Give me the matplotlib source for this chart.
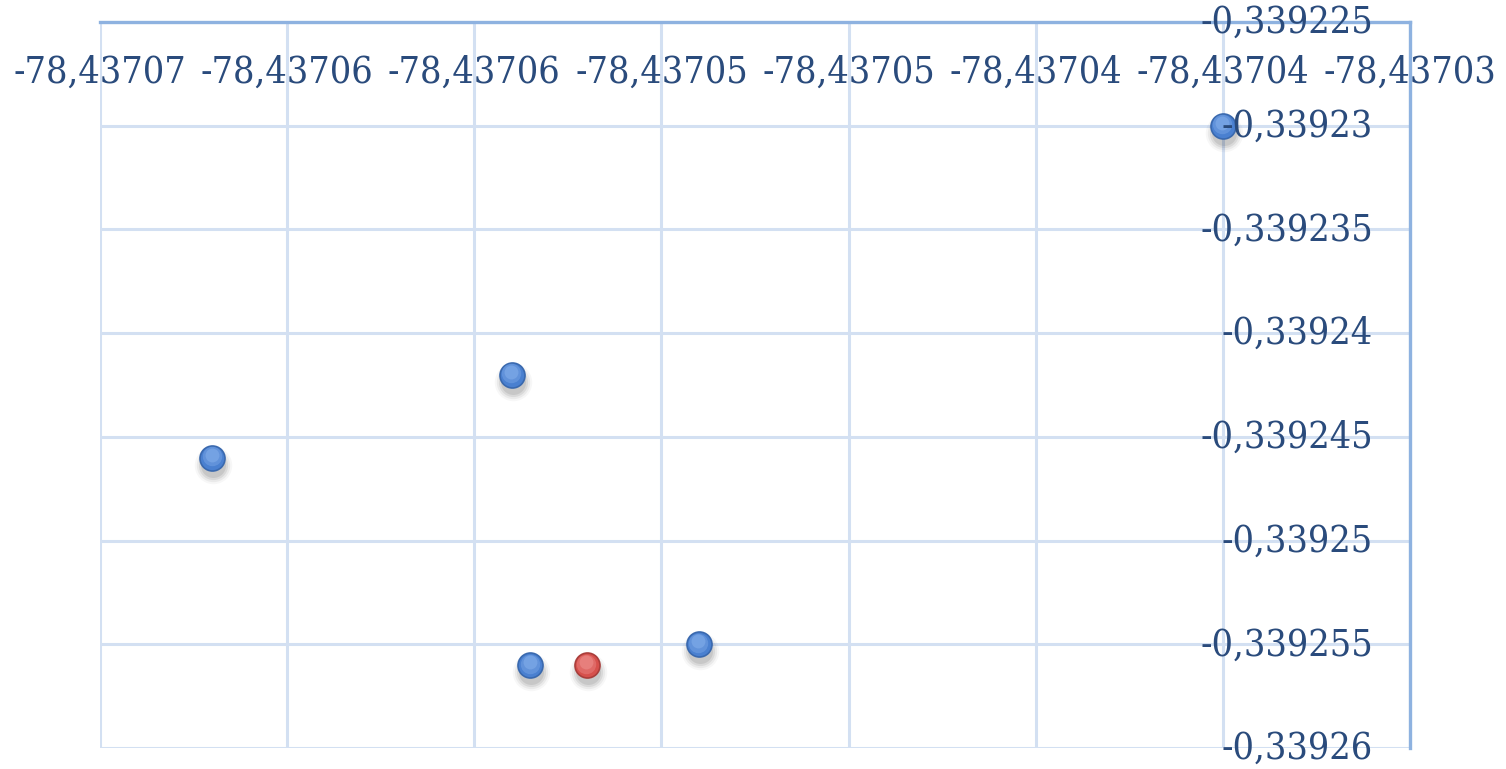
import matplotlib
matplotlib.use("Agg")
import matplotlib.pyplot as plt
import matplotlib.transforms as mtransforms
import numpy as np

# Longitude / latitude readings
lon_main = [-78.437038, -78.437057, -78.437065, -78.4370565, -78.437052]
lat_main = [-0.339230, -0.339242, -0.339246, -0.339256, -0.339255]
lon_ref = [-78.437055]
lat_ref = [-0.339256]

x_ticks = [-78.437068, -78.437063, -78.437058, -78.437053,
           -78.437048, -78.437043, -78.437038, -78.437033]
x_tick_labels = ["-78,43707", "-78,43706", "-78,43706", "-78,43705",
                 "-78,43705", "-78,43704", "-78,43704", "-78,43703"]
y_ticks = [-0.339225, -0.339230, -0.339235, -0.339240,
           -0.339245, -0.339250, -0.339255, -0.339260]
y_tick_labels = ["-0,339225", "-0,33923", "-0,339235", "-0,33924",
                 "-0,339245", "-0,33925", "-0,339255", "-0,33926"]

TEXT = "#2A4B7C"
GRID = "#D3E0F2"
AXIS = "#8EB2E0"

fig = plt.figure(figsize=(15.06, 7.69), dpi=100)
ax = fig.add_axes([100 / 1506, 1 - 748 / 769, 1310 / 1506, 726 / 769])
ax.set_xlim(x_ticks[0], x_ticks[-1])
ax.set_ylim(y_ticks[-1], y_ticks[0])

for xv in x_ticks:
    ax.axvline(xv, color=GRID, lw=2.2, zorder=1)
for yv in y_ticks:
    ax.axhline(yv, color=GRID, lw=2.2, zorder=1)

for s in ax.spines.values():
    s.set_visible(False)
ax.plot([x_ticks[0], x_ticks[-1]], [y_ticks[0], y_ticks[0]], color=AXIS,
        lw=2.4, zorder=2, clip_on=False, solid_capstyle="projecting")
ax.plot([x_ticks[-1], x_ticks[-1]], [y_ticks[0], y_ticks[-1]], color=AXIS,
        lw=2.4, zorder=2, clip_on=False, solid_capstyle="projecting")
ax.set_xticks([])
ax.set_yticks([])

font = dict(family="DejaVu Serif", fontstretch="condensed", size=27, color=TEXT)

# Category labels sit inside the plot, next to the crossing axes
lab_tr = mtransforms.blended_transform_factory(ax.transData, fig.transFigure)
for xv, lab in zip(x_ticks, x_tick_labels):
    ax.text(xv, 1 - 73 / 769, lab, transform=lab_tr, ha="center", va="center",
            zorder=6, clip_on=False, **font)
ylab_tr = mtransforms.offset_copy(ax.transData, fig=fig, x=-37, y=-1, units="dots")
for yv, lab in zip(y_ticks, y_tick_labels):
    ax.text(x_ticks[-1], yv, lab, transform=ylab_tr, ha="right", va="center",
            zorder=6, clip_on=False, **font)


def sphere(xs, ys, base, edge, light):
    # soft drop shadow
    for r, a in [(27, 0.03), (24, 0.05), (21, 0.07), (18, 0.08)]:
        sh = mtransforms.offset_copy(ax.transData, fig=fig, x=1, y=-7, units="dots")
        ax.scatter(xs, ys, s=r ** 2, color="#000000", alpha=a, lw=0,
                   transform=sh, zorder=3, clip_on=False)
    ax.scatter(xs, ys, s=18 ** 2, color=base, edgecolor=edge, lw=1.2,
               zorder=4, clip_on=False)
    for r, dy, a in [(14, 1.5, 0.35), (10, 3.0, 0.45)]:
        hl = mtransforms.offset_copy(ax.transData, fig=fig, x=-0.5, y=dy, units="dots")
        ax.scatter(xs, ys, s=r ** 2, color=light, alpha=a, lw=0,
                   transform=hl, zorder=5, clip_on=False)


sphere(lon_main, lat_main, "#4A80D0", "#3A69AE", "#8DB6EE")
sphere(lon_ref, lat_ref, "#D6504C", "#A93E3B", "#F29A97")

fig.savefig("out.png", dpi=100, facecolor="white")
